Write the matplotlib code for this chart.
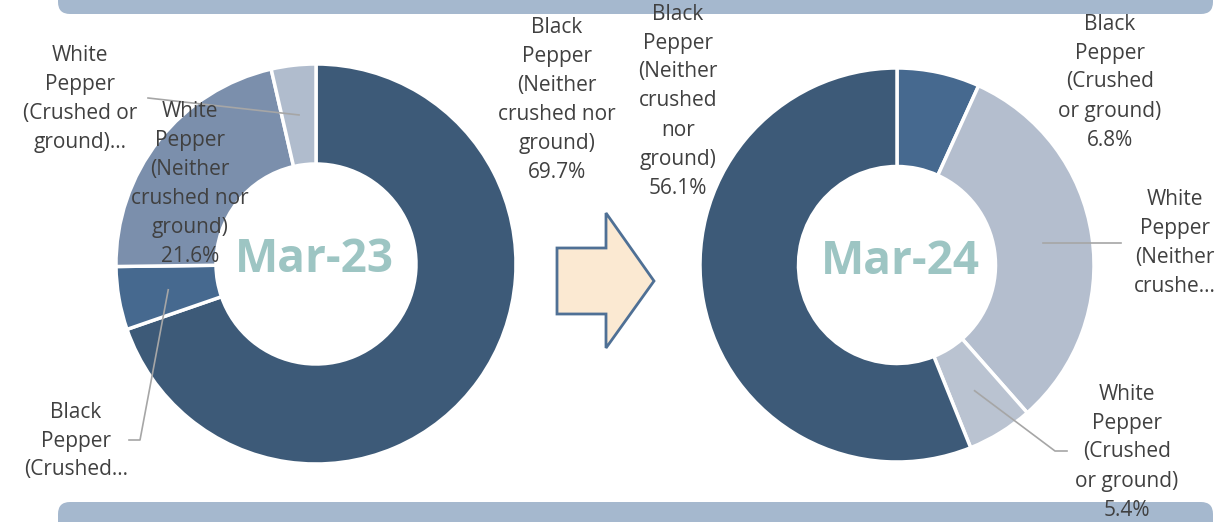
import matplotlib
matplotlib.use("Agg")
import matplotlib.pyplot as plt
import numpy as np
from matplotlib.patches import FancyBboxPatch, Polygon

W, H = 1221, 522

# ---- data ----
categories_23 = ["Black Pepper (Neither crushed nor ground)",
                 "Black Pepper (Crushed or ground)",
                 "White Pepper (Neither crushed nor ground)",
                 "White Pepper (Crushed or ground)"]
values_23 = [69.7, 5.1, 21.6, 3.6]
labels_23 = ["Black\nPepper\n(Neither\ncrushed nor\nground)\n69.7%",
             "Black\nPepper\n(Crushed…",
             "White\nPepper\n(Neither\ncrushed nor\nground)\n21.6%",
             "White\nPepper\n(Crushed or\nground)…"]

categories_24 = ["Black Pepper (Crushed or ground)",
                 "White Pepper (Neither crushed nor ground)",
                 "White Pepper (Crushed or ground)",
                 "Black Pepper (Neither crushed nor ground)"]
values_24 = [6.8, 31.7, 5.4, 56.1]
labels_24 = ["Black\nPepper\n(Crushed\nor ground)\n6.8%",
             "White\nPepper\n(Neither\ncrushe…",
             "White\nPepper\n(Crushed\nor ground)\n5.4%",
             "Black\nPepper\n(Neither\ncrushed\nnor\nground)\n56.1%"]

colors_23 = ["#3D5A78", "#46698F", "#7B8FAC", "#B0BCCD"]
colors_24 = ["#46698F", "#B4BECE", "#BAC3D1", "#3D5A78"]

fig = plt.figure(figsize=(W / 100, H / 100), dpi=100)
ax = fig.add_axes([0, 0, 1, 1])

def Y(y):
    return H - y

# bars
bar_col = "#A5B8CE"
ax.add_patch(FancyBboxPatch((58, Y(14)), 1155, 30, boxstyle="round,pad=0,rounding_size=12",
                            fc=bar_col, ec="none", zorder=1))
ax.add_patch(FancyBboxPatch((58, Y(540)), 1155, 38, boxstyle="round,pad=0,rounding_size=12",
                            fc=bar_col, ec="none", zorder=1))

# arrow
arrow = Polygon([(557, Y(248)), (606, Y(248)), (606, Y(213)), (654, Y(281)),
                 (606, Y(348)), (606, Y(314)), (557, Y(314))],
                closed=True, fc="#FBE9D2", ec="#4F7095", lw=2, zorder=2)
ax.add_patch(arrow)

def donut(vals, cols, cx, cy, R):
    wedges, _ = ax.pie(vals, colors=cols, startangle=90, counterclock=False,
                       radius=R, center=(cx, cy),
                       wedgeprops=dict(width=R * 0.5, edgecolor="white", linewidth=2.5))
    for w in wedges:
        w.set_zorder(3)
    return wedges

def mid_point(w, cx, cy, R, frac=0.75):
    a = np.deg2rad((w.theta1 + w.theta2) / 2)
    return cx + frac * R * np.cos(a), cy + frac * R * np.sin(a)

cx1, cy1, R1 = 316, Y(264), 200
cx2, cy2, R2 = 897, Y(265), 197
w1 = donut(values_23, colors_23, cx1, cy1, R1)
w2 = donut(values_24, colors_24, cx2, cy2, R2)

txt = dict(fontsize=15, color="#404040", ha="center", va="center",
           family="Open Sans", linespacing=1.5, zorder=6)
lc = "#A6A6A6"

# Left labels
ax.text(557, Y(100), labels_23[0], **txt)
ax.text(190, Y(184), labels_23[2], **txt)
ax.text(80, Y(99), labels_23[3], **txt)
ax.text(76, Y(441), labels_23[1], **txt)
# leaders left
px, py = mid_point(w1[3], cx1, cy1, R1)
ax.plot([px, 148], [py, Y(98)], color=lc, lw=1.2, zorder=5)
px, py = mid_point(w1[1], cx1, cy1, R1)
ax.plot([px, 140, 129], [py, Y(440), Y(440)], color=lc, lw=1.2, zorder=5)

# Right labels
ax.text(678, Y(101), labels_24[3], **txt)
ax.text(1110, Y(82), labels_24[0], **txt)
ax.text(1175, Y(243), labels_24[1], **txt)
ax.text(1127, Y(452), labels_24[2], **txt)
px, py = mid_point(w2[1], cx2, cy2, R2)
ax.plot([px, 1121], [py, py], color=lc, lw=1.2, zorder=5)
px, py = mid_point(w2[2], cx2, cy2, R2)
ax.plot([px, 1055, 1067], [py, Y(451), Y(451)], color=lc, lw=1.2, zorder=5)

# centre titles
ttl = dict(fontsize=33, color="#9DC5C3", fontweight="bold", ha="center", va="center",
           family="Open Sans", zorder=7)
ax.text(314, Y(259), "Mar-23", **ttl)
ax.text(900, Y(262), "Mar-24", **ttl)

ax.set_xlim(0, W)
ax.set_ylim(0, H)
ax.set_aspect("equal")
ax.axis("off")
fig.savefig("out.png", dpi=100)
